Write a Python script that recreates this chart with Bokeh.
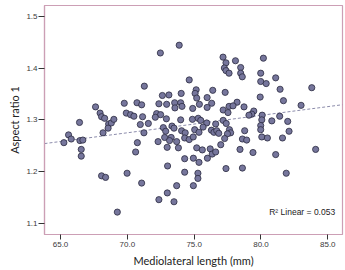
import numpy as np
from bokeh.plotting import figure
from bokeh.models import Range1d, FixedTicker, NumeralTickFormatter, Label
from bokeh.embed import file_html
from bokeh.resources import INLINE

# Mediolateral length (mm)
ml_length = [
    67.62, 67.96, 68.07, 68.30, 68.60, 66.42, 65.60, 68.18, 68.56, 65.25, 65.80, 66.45, 66.67, 66.55, 66.55, 68.07, 68.37,
    68.80, 68.99, 72.47, 71.27, 72.62, 73.11, 69.77, 70.72, 71.07, 72.36, 72.94, 73.54, 73.56, 69.92, 70.24, 70.49, 71.14,
    72.19, 72.49, 72.09, 72.92, 70.97, 71.57, 72.69, 73.34, 73.49, 71.24, 72.87, 73.88,
    74.63, 74.03, 75.15, 75.07, 75.19, 76.39, 75.97, 73.99, 74.09, 75.39, 76.31, 75.97, 74.89, 77.17, 77.61, 77.16, 77.38,
    77.26, 77.38, 77.61, 77.32, 77.53, 77.17, 77.40, 73.99, 74.87, 75.30, 75.49, 75.94, 76.61, 75.67, 74.06, 74.33, 75.04,
    76.29, 76.48, 76.69, 76.84, 75.36, 77.64, 77.73, 77.49,
    78.09, 78.48, 78.48, 78.60, 80.18, 79.98, 79.98, 80.39, 81.10, 81.43, 83.80, 79.94, 81.68, 83.00, 78.21, 77.91, 78.73,
    79.46, 79.31, 79.10, 80.09, 80.06, 80.81, 81.40, 82.00, 78.78, 79.98, 79.98, 82.10,
    70.75, 70.62, 69.98, 71.07, 69.25, 72.30, 72.79, 73.28, 73.16, 73.69, 73.82, 72.98, 73.01, 73.69, 72.99, 72.36, 73.49,
    74.29, 74.63, 74.93, 75.19, 75.61, 76.20, 76.35, 76.61, 75.99, 76.99, 74.29, 74.94, 75.36, 74.29, 75.28, 75.28, 74.94,
    77.38, 77.28, 78.61, 78.93, 80.06, 80.48, 81.61, 78.43, 79.40, 81.10, 84.09, 78.61, 81.89,
]

# Aspect ratio 1
aspect_ratio = [
    1.325, 1.313, 1.306, 1.303, 1.292, 1.295, 1.271, 1.275, 1.284, 1.256, 1.263, 1.260, 1.261, 1.243, 1.230, 1.192, 1.189,
    1.294, 1.301, 1.429, 1.365, 1.347, 1.348, 1.332, 1.333, 1.329, 1.331, 1.330, 1.333, 1.323, 1.313, 1.310, 1.307, 1.306,
    1.312, 1.310, 1.305, 1.302, 1.291, 1.293, 1.285, 1.288, 1.284, 1.275, 1.278, 1.444,
    1.377, 1.351, 1.358, 1.351, 1.342, 1.357, 1.343, 1.333, 1.326, 1.330, 1.332, 1.324, 1.322, 1.319, 1.326, 1.421, 1.410,
    1.400, 1.395, 1.390, 1.353, 1.314, 1.299, 1.293, 1.300, 1.301, 1.303, 1.299, 1.294, 1.292, 1.286, 1.279, 1.275, 1.281,
    1.280, 1.276, 1.279, 1.274, 1.276, 1.281, 1.275, 1.273,
    1.414, 1.401, 1.390, 1.383, 1.419, 1.390, 1.374, 1.370, 1.381, 1.359, 1.362, 1.344, 1.337, 1.328, 1.334, 1.327, 1.325,
    1.317, 1.311, 1.309, 1.309, 1.300, 1.298, 1.307, 1.297, 1.279, 1.289, 1.281, 1.278,
    1.256, 1.238, 1.197, 1.178, 1.122, 1.258, 1.266, 1.266, 1.260, 1.258, 1.246, 1.247, 1.211, 1.173, 1.159, 1.146, 1.142,
    1.265, 1.262, 1.267, 1.246, 1.242, 1.244, 1.234, 1.238, 1.226, 1.252, 1.225, 1.226, 1.218, 1.199, 1.197, 1.187, 1.173,
    1.206, 1.264, 1.263, 1.261, 1.267, 1.265, 1.265, 1.243, 1.237, 1.233, 1.243, 1.207, 1.197,
]

x_ticks = [65.0, 70.0, 75.0, 80.0, 85.0]
y_ticks = [1.1, 1.2, 1.3, 1.4, 1.5]
r2_text = "R\u00b2 Linear = 0.053"

PINK = "#cc9fb5"
TICK_FONT = "Liberation Sans"
LABEL_FONT = "Lato"

p = figure(width=345, height=270, output_backend="svg", toolbar_location=None,
           x_range=Range1d(63.8, 86.1), y_range=Range1d(1.0788, 1.5206),
           min_border_left=44, min_border_right=3, min_border_top=5, min_border_bottom=36)

p.background_fill_color = "white"
p.border_fill_color = "white"
p.outline_line_color = PINK
p.outline_line_width = 1.2
p.xgrid.visible = False
p.ygrid.visible = False

for ax, ticks in ((p.xaxis[0], x_ticks), (p.yaxis[0], y_ticks)):
    ax.ticker = FixedTicker(ticks=ticks)
    ax.formatter = NumeralTickFormatter(format="0.0")
    ax.axis_line_color = PINK
    ax.axis_line_width = 1.2
    ax.major_tick_line_color = "#333333"
    ax.major_tick_in = 0
    ax.major_tick_out = 5
    ax.minor_tick_line_color = None
    ax.major_label_text_font = TICK_FONT
    ax.major_label_text_font_size = "8px"
    ax.major_label_text_color = "#3a3a3a"
    ax.major_label_standoff = 2
    ax.axis_label_text_font = LABEL_FONT
    ax.axis_label_text_font_size = "11px"
    ax.axis_label_text_font_style = "normal"
    ax.axis_label_text_color = "#222222"
    ax.axis_label_standoff = 4

p.yaxis[0].major_tick_out = 6
p.yaxis[0].major_label_standoff = 1
p.yaxis[0].axis_label_standoff = 2

p.xaxis.axis_label = "Mediolateral length (mm)"
p.yaxis.axis_label = "Aspect ratio 1"

# linear fit
xs = np.array(ml_length)
ys = np.array(aspect_ratio)
slope, intercept = np.polyfit(xs, ys, 1)
fx = np.array([p.x_range.start, p.x_range.end])
p.line(fx, intercept + slope * fx, line_color="#8c8cab", line_width=1, line_dash="3 2")

p.scatter(ml_length, aspect_ratio, marker="circle", size=6.2,
          fill_color="#76769c", line_color="#2b2b40", line_width=0.8)

p.add_layout(Label(x=85.55, y=1.123, text=r2_text, text_align="right", text_baseline="middle",
                   text_font=TICK_FONT, text_font_size="8.5px", text_color="#222222"))

open("out.html", "w").write(file_html(p, INLINE))
